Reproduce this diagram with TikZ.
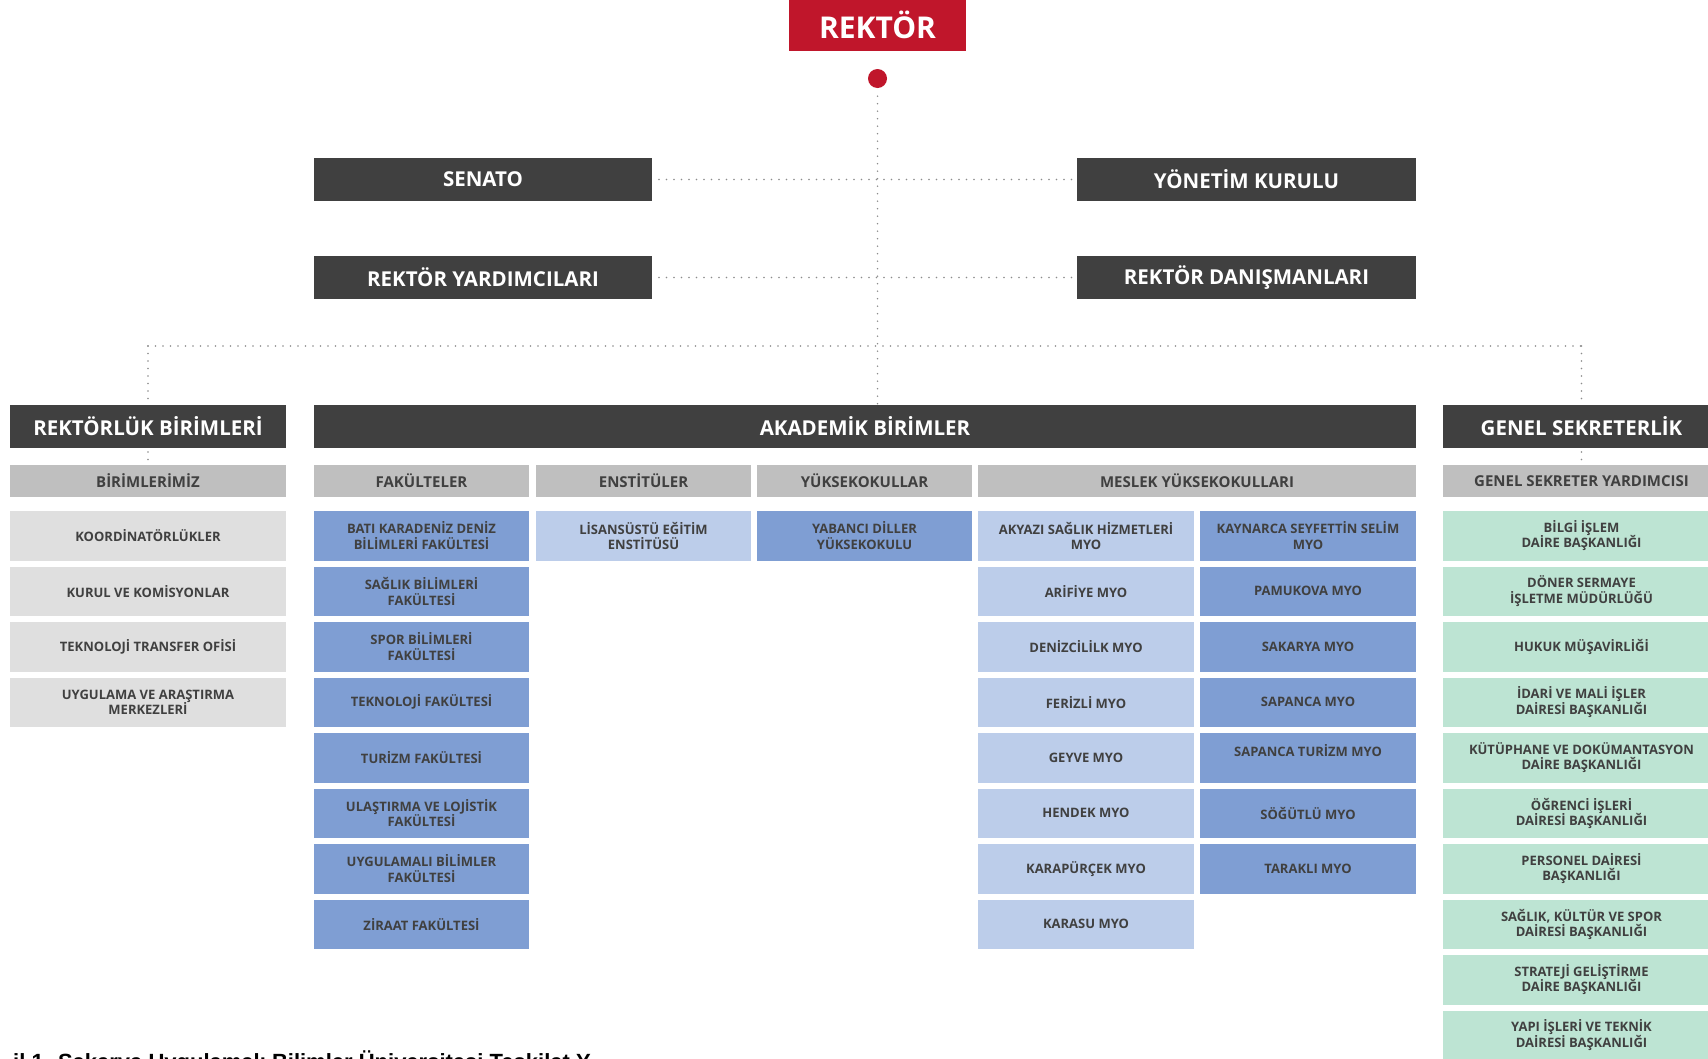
\documentclass[tikz,border=0pt]{standalone}
\usepackage{fontspec}
\setmainfont{Open Sans}
\newfontfamily\capfont{Liberation Sans}
\definecolor{dk}{HTML}{404040}
\definecolor{rd}{HTML}{C0162B}
\definecolor{hd}{HTML}{BFBFBF}
\definecolor{lg}{HTML}{DFDFDF}
\definecolor{bl}{HTML}{7F9ED3}
\definecolor{lb}{HTML}{BCCDEA}
\definecolor{gr}{HTML}{BDE4D3}
\definecolor{txt}{HTML}{404040}
\definecolor{dotc}{HTML}{8C8C8C}
\begin{document}
\begin{tikzpicture}[x=1pt,y=-1pt,
  base/.style={rectangle, inner sep=0pt, outer sep=0pt, align=center, text=txt,
    font=\bfseries\fontsize{13}{15.5}\selectfont},
  darkbox/.style={base, fill=dk, text=white, font=\bfseries\fontsize{20.5}{24}\selectfont, minimum height=43pt},
  hdrbox/.style={base, fill=hd, font=\bfseries\fontsize{15}{18}\selectfont, minimum height=32pt},
  cell/.style={base, minimum height=49.5pt},
  graycell/.style={cell, fill=lg, minimum width=276pt},
  bluecell/.style={cell, fill=bl, minimum width=215pt},
  lbluecell/.style={cell, fill=lb, minimum width=215pt},
  greencell/.style={cell, fill=gr, minimum width=277pt},
  dotline/.style={draw=dotc, line width=1.6pt, line cap=round, dash pattern=on 0pt off 7.5pt}
]
\clip (0,0) rectangle (1708,1058);
\fill[white] (0,0) rectangle (1708,1058);

% top
\node[base, fill=rd, text=white, font=\bfseries\fontsize{30}{34}\selectfont,
  minimum width=177pt, minimum height=53pt] (rektor) at (877.5,24.5) {REKTÖR};
\node[circle, fill=rd, minimum size=19pt, inner sep=0pt] (dot) at (877.5,78.5) {};

\node[darkbox, minimum width=338pt] (senato) at (483,179.5) {SENATO};
\node[darkbox, minimum width=339pt] (yk) at (1246.5,179.5) {YÖNETİM KURULU};
\node[darkbox, minimum width=338pt] (ry) at (483,277.5) {REKTÖR YARDIMCILARI};
\node[darkbox, minimum width=339pt] (rdn) at (1246.5,277.5) {REKTÖR DANIŞMANLARI};

% second level
\node[darkbox, minimum width=276pt] (rb) at (148,426.5) {REKTÖRLÜK BİRİMLERİ};
\node[darkbox, minimum width=1102pt] (akad) at (865,426.5) {AKADEMİK BİRİMLER};
\node[darkbox, minimum width=277pt] (gs) at (1581.5,426.5) {GENEL SEKRETERLİK};

% headers
\node[hdrbox, minimum width=276pt] (hrb) at (148,481) {BİRİMLERİMİZ};
\node[hdrbox, minimum width=215pt] (hfak) at (421.5,481) {FAKÜLTELER};
\node[hdrbox, minimum width=215pt] (hens) at (643.5,481) {ENSTİTÜLER};
\node[hdrbox, minimum width=215pt] (hyuk) at (864.5,481) {YÜKSEKOKULLAR};
\node[hdrbox, minimum width=438pt] (hmyo) at (1197,481) {MESLEK YÜKSEKOKULLARI};
\node[hdrbox, minimum width=277pt] (hgs) at (1581.5,481) {GENEL SEKRETER YARDIMCISI};

% connectors
\coordinate (hl) at (148,346);
\coordinate (hr) at (1581.5,346);
\begin{scope}[on background layer/.try]
\end{scope}
\draw[dotline, shorten <=8pt] (dot.south) -- (dot.south |- akad.north);
\draw[dotline, shorten <=7pt, shorten >=5pt] (senato.east) -- (yk.west);
\draw[dotline, shorten <=7pt, shorten >=5pt] (ry.east) -- (rdn.west);
\draw[dotline] (hl) -- (hr);
\draw[dotline] (hl) -- (rb.north);
\draw[dotline] (hr) -- (gs.north);
\draw[dotline, shorten <=4pt] (rb.south) -- (hrb.north);
\draw[dotline, shorten <=4pt] (gs.south) -- (hgs.north);

% Rektörlük birimleri
\foreach \t [count=\i from 0] in {KOORDİNATÖRLÜKLER, KURUL VE KOMİSYONLAR,
  TEKNOLOJİ TRANSFER OFİSİ, {UYGULAMA VE ARAŞTIRMA\\MERKEZLERİ}}
  \node[graycell] (rb\i) at (148,{535.75+55.5*\i}) {\t};

% Fakülteler
\foreach \t [count=\i from 0] in {{BATI KARADENİZ DENİZ\\BİLİMLERİ FAKÜLTESİ},
  {SAĞLIK BİLİMLERİ\\FAKÜLTESİ}, {SPOR BİLİMLERİ\\FAKÜLTESİ}, TEKNOLOJİ FAKÜLTESİ,
  TURİZM FAKÜLTESİ, {ULAŞTIRMA VE LOJİSTİK\\FAKÜLTESİ},
  {UYGULAMALI BİLİMLER\\FAKÜLTESİ}, ZİRAAT FAKÜLTESİ}
  \node[bluecell] (fak\i) at (421.5,{535.75+55.5*\i}) {\t};

% Enstitü, Yüksekokul
\node[lbluecell] (ens0) at (643.5,535.75) {LİSANSÜSTÜ EĞİTİM\\ENSTİTÜSÜ};
\node[bluecell] (yuk0) at (864.5,535.75) {YABANCI DİLLER\\YÜKSEKOKULU};

% MYO left
\foreach \t [count=\i from 0] in {{AKYAZI SAĞLIK HİZMETLERİ\\MYO}, ARİFİYE MYO,
  DENİZCİLİLK MYO, FERİZLİ MYO, GEYVE MYO, HENDEK MYO, KARAPÜRÇEK MYO, KARASU MYO}
  \node[lbluecell, minimum width=216pt] (myol\i) at (1086,{535.75+55.5*\i}) {\t};

% MYO right
\foreach \t [count=\i from 0] in {{KAYNARCA SEYFETTİN SELİM\\MYO}, PAMUKOVA MYO,
  SAKARYA MYO, SAPANCA MYO, {SAPANCA TURİZM MYO\\\mbox{}}, SÖĞÜTLÜ MYO, TARAKLI MYO}
  \node[bluecell, minimum width=216pt] (myor\i) at (1308,{535.75+55.5*\i}) {\t};

% Genel sekreterlik
\foreach \t [count=\i from 0] in {{BİLGİ İŞLEM\\DAİRE BAŞKANLIĞI},
  {DÖNER SERMAYE\\İŞLETME MÜDÜRLÜĞÜ}, HUKUK MÜŞAVİRLİĞİ,
  {İDARİ VE MALİ İŞLER\\DAİRESİ BAŞKANLIĞI},
  {KÜTÜPHANE VE DOKÜMANTASYON\\DAİRE BAŞKANLIĞI},
  {ÖĞRENCİ İŞLERİ\\DAİRESİ BAŞKANLIĞI}, {PERSONEL DAİRESİ\\BAŞKANLIĞI},
  {SAĞLIK, KÜLTÜR VE SPOR\\DAİRESİ BAŞKANLIĞI},
  {STRATEJİ GELİŞTİRME\\DAİRE BAŞKANLIĞI},
  {YAPI İŞLERİ VE TEKNİK\\DAİRESİ BAŞKANLIĞI}}
  \node[greencell] (gs\i) at (1581.5,{535.75+55.5*\i}) {\t};

% caption (cut by the lower edge)
\node[anchor=base west, inner sep=0pt, font=\capfont\bfseries\fontsize{22}{26}\selectfont]
  (cap) at (13,1069) {il 1. Sakarya Uygulamalı Bilimler Üniversitesi Teşkilat Y};
\end{tikzpicture}
\end{document}
